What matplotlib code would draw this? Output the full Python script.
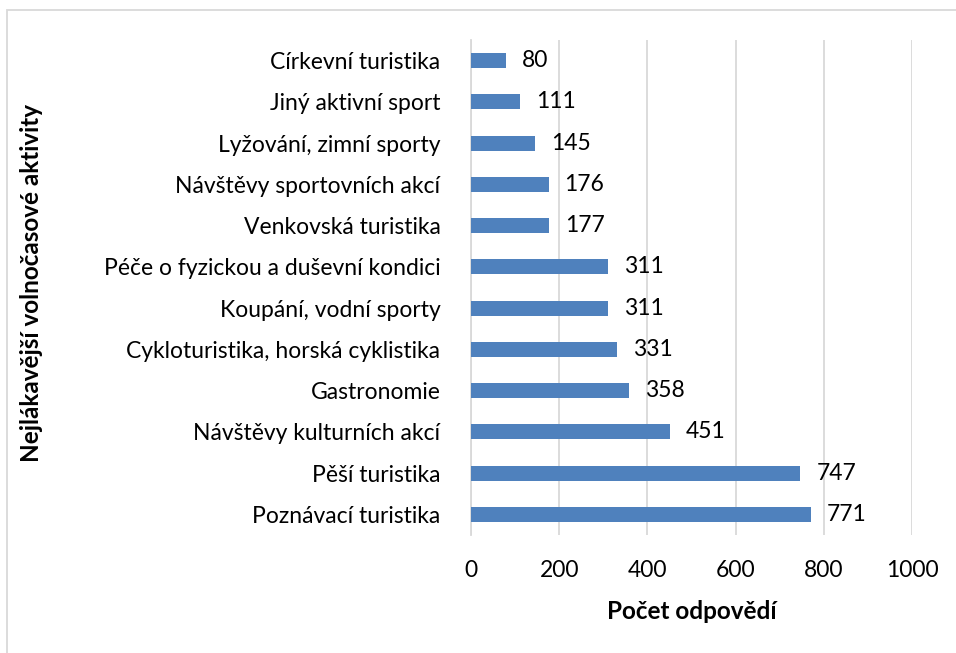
import matplotlib
matplotlib.use("Agg")
import matplotlib.pyplot as plt
from matplotlib.patches import Rectangle

plt.rcParams['font.family'] = ['Lato', 'DejaVu Sans']

# data, bottom to top as drawn
activities = [
    "Poznávací turistika",
    "Pěší turistika",
    "Návštěvy kulturních akcí",
    "Gastronomie",
    "Cykloturistika, horská cyklistika",
    "Koupání, vodní sporty",
    "Péče o fyzickou a duševní kondici",
    "Venkovská turistika",
    "Návštěvy sportovních akcí",
    "Lyžování, zimní sporty",
    "Jiný aktivní sport",
    "Církevní turistika",
]
counts = [771, 747, 451, 358, 331, 311, 311, 177, 176, 145, 111, 80]
xticks = [0, 200, 400, 600, 800, 1000]

fig = plt.figure(figsize=(9.56, 6.53), dpi=100)
ax = fig.add_axes([471 / 956, 1 - 535 / 653, 441 / 956, 495 / 653])

ypos = list(range(len(activities)))
ax.barh(ypos, counts, height=0.36, color="#4F81BD", zorder=3)

for y, v in zip(ypos, counts):
    ax.text(v + 36, y, str(v), va="center", ha="left", fontsize=16.5, color="black")

ax.set_xlim(0, 1000)
ax.set_ylim(-0.5, 11.5)
ax.set_xticks(xticks)
ax.set_yticks(ypos)
ax.set_yticklabels(activities)
ax.tick_params(axis="y", length=0, pad=22, labelsize=16.5)
ax.tick_params(axis="x", length=0, pad=18, labelsize=16.5)

ax.grid(axis="x", color="#D9D9D9", linewidth=1.3, zorder=0)
for s in ["top", "right", "bottom"]:
    ax.spines[s].set_visible(False)
ax.spines["left"].set_color("#D9D9D9")
ax.spines["left"].set_linewidth(1.3)

ax.set_xlabel("Počet odpovědí", fontsize=17.5, fontweight="bold", labelpad=14)
fig.text(32 / 956, 1 - 283 / 653, "Nejlákavější volnočasové aktivity", rotation=90,
         ha="center", va="center", fontsize=17.5, fontweight="bold")

# chart frame
fig.patches.append(Rectangle((7 / 956, -0.1), 1.2, 1 - 10 / 653 + 0.1, transform=fig.transFigure,
                             fill=False, edgecolor="#D9D9D9", linewidth=1.3))

fig.savefig("out.png", dpi=100)
